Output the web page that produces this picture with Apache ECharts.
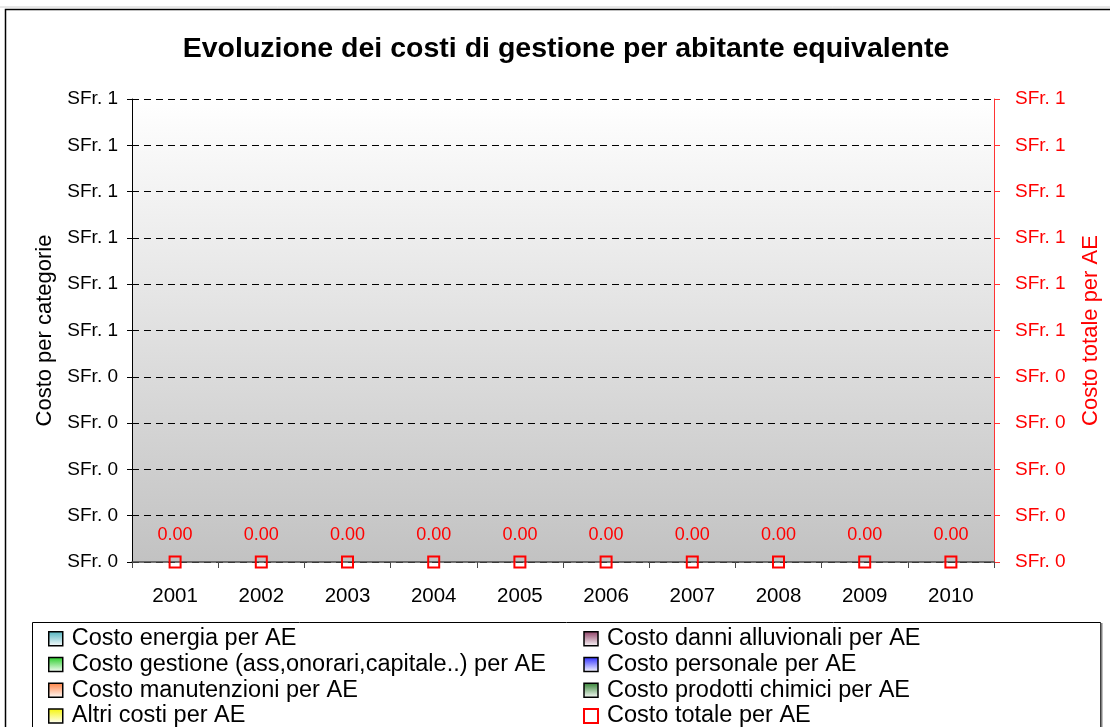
<!DOCTYPE html>
<html>
<head>
<meta charset="utf-8">
<script src="https://cdn.jsdelivr.net/npm/echarts@6/dist/echarts.min.js"></script>
<style>
  html, body { margin: 0; padding: 0; background: #fff; }
  #chart { width: 1110px; height: 727px; }
</style>
</head>
<body>
<div id="chart"></div>
<script>
// Years on the category axis
const years = ['2001', '2002', '2003', '2004', '2005', '2006', '2007', '2008', '2009', '2010'];

// Cost per inhabitant equivalent, by category (stacked columns, left axis)
const costoEnergia       = [0, 0, 0, 0, 0, 0, 0, 0, 0, 0];
const costoGestione      = [0, 0, 0, 0, 0, 0, 0, 0, 0, 0];
const costoManutenzioni  = [0, 0, 0, 0, 0, 0, 0, 0, 0, 0];
const altriCosti         = [0, 0, 0, 0, 0, 0, 0, 0, 0, 0];
const costoDanni         = [0, 0, 0, 0, 0, 0, 0, 0, 0, 0];
const costoPersonale     = [0, 0, 0, 0, 0, 0, 0, 0, 0, 0];
const costoChimici       = [0, 0, 0, 0, 0, 0, 0, 0, 0, 0];

// Total cost per inhabitant equivalent (markers, right axis)
const costoTotale        = [0, 0, 0, 0, 0, 0, 0, 0, 0, 0];

// Axis range for both value axes
const axisMin = 0, axisMax = 1, axisStep = 0.1;

const FONT = '"Liberation Sans", Arial, Helvetica, sans-serif';

function fade(c) {
  return new echarts.graphic.LinearGradient(0, 0, 0, 1, [
    { offset: 0, color: c }, { offset: 1, color: '#ffffff' }
  ]);
}
function sfr(v) { return 'SFr. ' + Math.round(v + 1e-9); }

const barDefs = [
  { name: 'Costo energia per AE', data: costoEnergia, color: '#4fb3bf' },
  { name: 'Costo gestione (ass,onorari,capitale..) per AE', data: costoGestione, color: '#22cc22' },
  { name: 'Costo manutenzioni per AE', data: costoManutenzioni, color: '#ff7f3f' },
  { name: 'Altri costi per AE', data: altriCosti, color: '#f5f500' },
  { name: 'Costo danni alluvionali per AE', data: costoDanni, color: '#8c3d63' },
  { name: 'Costo personale per AE', data: costoPersonale, color: '#2a2aff' },
  { name: 'Costo prodotti chimici per AE', data: costoChimici, color: '#2f7f2f' }
];
const totaleName = 'Costo totale per AE';

const series = barDefs.map(d => ({
  name: d.name,
  type: 'bar',
  stack: 'costi',
  yAxisIndex: 0,
  barWidth: '60%',
  data: d.data,
  itemStyle: { color: fade(d.color) }
}));
series.push({
  name: totaleName,
  type: 'line',
  yAxisIndex: 1,
  data: costoTotale,
  symbol: 'rect',
  symbolSize: 11,
  lineStyle: { width: 0, opacity: 0 },
  itemStyle: { color: 'rgba(0,0,0,0)', borderColor: '#ff0000', borderWidth: 2 },
  label: {
    show: true, position: 'top', distance: 11,
    color: '#ff0000', fontFamily: FONT, fontSize: 18,
    formatter: p => p.value.toFixed(2)
  },
  z: 5
});

function legendItem(name) {
  if (name === totaleName) {
    return { name, icon: 'rect', itemStyle: { color: '#ffffff', borderColor: '#ff0000', borderWidth: 2 } };
  }
  const d = barDefs.find(b => b.name === name);
  return { name, icon: 'rect', itemStyle: { color: fade(d.color), borderColor: '#000', borderWidth: 1.5 } };
}
const legendBase = {
  orient: 'vertical',
  height: 160,
  padding: 0,
  itemWidth: 14, itemHeight: 14, itemGap: 0,
  selectedMode: false,
  textStyle: { fontFamily: FONT, fontSize: 23.5, color: '#000', lineHeight: 25.7, padding: [0, 0, 0, 4] }
};

const chart = echarts.init(document.getElementById('chart'), null, { renderer: 'canvas' });
chart.setOption({
  animation: false,
  backgroundColor: '#ffffff',
  grid: {
    left: 132, right: 109, top: 99, bottom: 165,
    show: true, borderWidth: 0,
    backgroundColor: new echarts.graphic.LinearGradient(0, 0, 0, 1, [
      { offset: 0, color: '#ffffff' }, { offset: 1, color: '#c2c2c2' }
    ])
  },
  legend: [
    Object.assign({ left: 48, top: 626, data: [barDefs[0].name, barDefs[1].name, barDefs[2].name, barDefs[3].name].map(legendItem) }, legendBase),
    Object.assign({ left: 583, top: 626, data: [barDefs[4].name, barDefs[5].name, barDefs[6].name, totaleName].map(legendItem) }, legendBase)
  ],
  xAxis: {
    type: 'category',
    data: years,
    boundaryGap: true,
    axisLine: { lineStyle: { color: '#4a4a4a', width: 1.5 } },
    axisTick: { show: true, length: 6, lineStyle: { color: '#4a4a4a' } },
    axisLabel: { fontFamily: FONT, fontSize: 20.5, color: '#000', margin: 24 }
  },
  yAxis: [
    {
      type: 'value', min: axisMin, max: axisMax, interval: axisStep,
      name: 'Costo per categorie', nameLocation: 'middle', nameGap: 76, nameRotate: 90,
      nameTextStyle: { fontFamily: FONT, fontSize: 22, color: '#000' },
      axisLine: { show: true, lineStyle: { color: '#000', width: 1 } },
      axisTick: { show: true, length: 5, lineStyle: { color: '#000' } },
      axisLabel: { fontFamily: FONT, fontSize: 19, color: '#000', margin: 14, formatter: sfr },
      splitLine: { show: true, lineStyle: { color: '#000', type: [7, 5], width: 1 } }
    },
    {
      type: 'value', min: axisMin, max: axisMax, interval: axisStep, position: 'right',
      name: 'Costo totale per AE', nameLocation: 'middle', nameGap: 86, nameRotate: 90,
      nameTextStyle: { fontFamily: FONT, fontSize: 22, color: '#ff0000' },
      axisLine: { show: true, lineStyle: { color: '#ff3333', width: 1 } },
      axisTick: { show: true, length: 6, lineStyle: { color: '#ff3333' } },
      axisLabel: { fontFamily: FONT, fontSize: 19, color: '#ff0000', margin: 21, formatter: sfr },
      splitLine: { show: false }
    }
  ],
  series: series,
  graphic: [
    // chart frame
    { type: 'rect', silent: true, z: -1, shape: { x: 5.5, y: 9.5, width: 1200, height: 800 },
      style: { fill: 'none', stroke: '#000', lineWidth: 1.5 } },
    { type: 'line', silent: true, shape: { x1: 0, y1: 7, x2: 1110, y2: 7 },
      style: { stroke: '#d0d0d0', lineWidth: 1 } },
    // legend frame
    { type: 'rect', silent: true, z: -1, shape: { x: 32.5, y: 622.5, width: 1068, height: 200 },
      style: { fill: 'none', stroke: '#000', lineWidth: 1 } },
    { type: 'line', silent: true, shape: { x1: 1101.5, y1: 623, x2: 1101.5, y2: 727 },
      style: { stroke: '#808080', lineWidth: 2 } },
    // title
    { type: 'text', x: 566, y: 49, silent: true,
      style: { text: 'Evoluzione dei costi di gestione per abitante equivalente',
               fontFamily: FONT, fontSize: 28.5, fontWeight: 'bold', fill: '#000',
               align: 'center', verticalAlign: 'middle' } }
  ]
});
</script>
</body>
</html>
